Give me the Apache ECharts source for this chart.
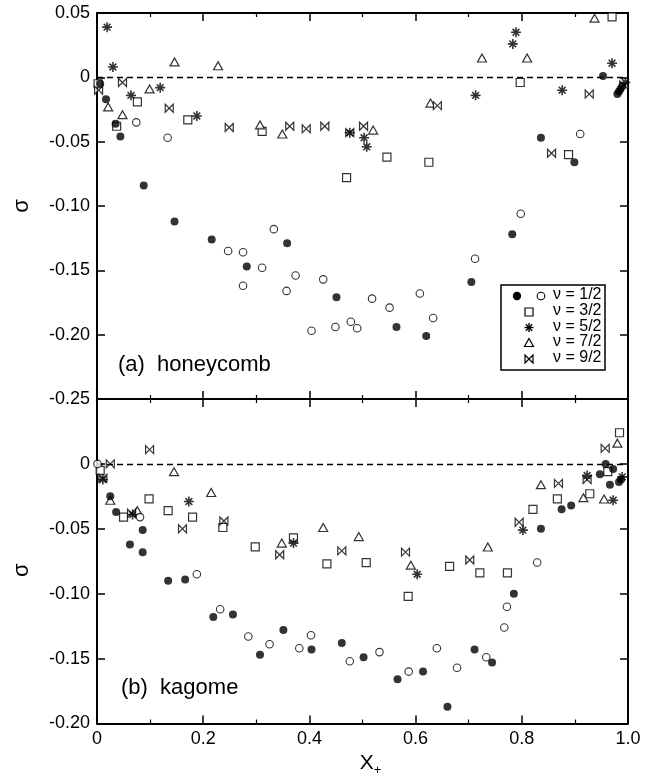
<!DOCTYPE html>
<html>
<head>
<meta charset="utf-8">
<script src="https://cdn.jsdelivr.net/npm/echarts@6/dist/echarts.min.js"></script>
<style>
html,body{margin:0;padding:0;background:#fff;}
#chart{width:659px;height:781px;}
</style>
</head>
<body>
<div id="chart"></div>
<script>
// ---- data (x = X+, y = sigma) ----
const xTicks = [0, 0.2, 0.4, 0.6, 0.8, 1.0];
const legendLabels = ['ν = 1/2', 'ν = 3/2', 'ν = 5/2', 'ν = 7/2', 'ν = 9/2'];

// (a) honeycomb
const honeyFilled12 = [[0.006,-0.005],[0.017,-0.017],[0.035,-0.036],[0.044,-0.046],[0.088,-0.084],[0.146,-0.112],[0.216,-0.126],[0.282,-0.147],[0.358,-0.129],[0.451,-0.171],[0.564,-0.194],[0.620,-0.201],[0.705,-0.159],[0.782,-0.122],[0.836,-0.047],[0.899,-0.066],[0.953,0.001],[0.980,-0.013],[0.983,-0.011],[0.986,-0.009],[0.989,-0.007]];
const honeyOpen12 = [[0.074,-0.035],[0.133,-0.047],[0.247,-0.135],[0.275,-0.136],[0.275,-0.162],[0.311,-0.148],[0.333,-0.118],[0.357,-0.166],[0.374,-0.154],[0.404,-0.197],[0.426,-0.157],[0.449,-0.194],[0.478,-0.190],[0.490,-0.195],[0.518,-0.172],[0.551,-0.179],[0.608,-0.168],[0.633,-0.187],[0.712,-0.141],[0.798,-0.106],[0.910,-0.044]];
const honey32 = [[0.002,-0.005],[0.037,-0.038],[0.076,-0.019],[0.171,-0.033],[0.311,-0.042],[0.470,-0.078],[0.546,-0.062],[0.625,-0.066],[0.797,-0.004],[0.888,-0.060],[0.970,0.047]];
const honey52 = [[0.019,0.039],[0.030,0.008],[0.064,-0.014],[0.119,-0.008],[0.188,-0.030],[0.476,-0.043],[0.503,-0.047],[0.508,-0.054],[0.713,-0.014],[0.783,0.026],[0.789,0.035],[0.876,-0.010],[0.970,0.011],[0.995,-0.004]];
const honey72 = [[0.021,-0.023],[0.048,-0.029],[0.099,-0.009],[0.146,0.012],[0.228,0.009],[0.307,-0.037],[0.349,-0.044],[0.520,-0.041],[0.628,-0.020],[0.725,0.015],[0.810,0.015],[0.937,0.046]];
const honey92 = [[0.003,-0.010],[0.048,-0.004],[0.136,-0.024],[0.249,-0.039],[0.363,-0.038],[0.394,-0.040],[0.429,-0.038],[0.476,-0.043],[0.502,-0.038],[0.641,-0.022],[0.856,-0.059],[0.927,-0.013],[0.992,-0.006]];

// (b) kagome
const kagFilled12 = [[0.025,-0.025],[0.036,-0.037],[0.062,-0.062],[0.086,-0.051],[0.086,-0.068],[0.134,-0.090],[0.166,-0.089],[0.219,-0.118],[0.256,-0.116],[0.307,-0.147],[0.351,-0.128],[0.404,-0.143],[0.461,-0.138],[0.502,-0.149],[0.566,-0.166],[0.614,-0.160],[0.660,-0.187],[0.711,-0.143],[0.744,-0.153],[0.785,-0.100],[0.836,-0.050],[0.875,-0.035],[0.893,-0.032],[0.947,-0.008],[0.958,0.000],[0.972,-0.004],[0.966,-0.016],[0.983,-0.014],[0.987,-0.012]];
const kagOpen12 = [[0.001,0.000],[0.081,-0.041],[0.188,-0.085],[0.232,-0.112],[0.285,-0.133],[0.325,-0.139],[0.381,-0.142],[0.403,-0.132],[0.476,-0.152],[0.532,-0.145],[0.587,-0.160],[0.640,-0.142],[0.678,-0.157],[0.733,-0.149],[0.767,-0.126],[0.772,-0.110],[0.829,-0.076]];
const kag32 = [[0.006,-0.005],[0.050,-0.041],[0.098,-0.027],[0.134,-0.036],[0.180,-0.041],[0.237,-0.049],[0.298,-0.064],[0.370,-0.057],[0.433,-0.077],[0.507,-0.076],[0.586,-0.102],[0.664,-0.079],[0.721,-0.084],[0.773,-0.084],[0.821,-0.035],[0.867,-0.027],[0.928,-0.023],[0.962,-0.006],[0.984,0.024]];
const kag52 = [[0.011,-0.012],[0.067,-0.039],[0.173,-0.029],[0.370,-0.061],[0.603,-0.085],[0.802,-0.051],[0.923,-0.009],[0.972,-0.028],[0.989,-0.010]];
const kag72 = [[0.025,-0.028],[0.076,-0.036],[0.145,-0.006],[0.215,-0.022],[0.348,-0.061],[0.426,-0.049],[0.493,-0.056],[0.591,-0.078],[0.736,-0.064],[0.836,-0.016],[0.916,-0.026],[0.955,-0.027],[0.980,0.016]];
const kag92 = [[0.025,0.000],[0.011,-0.011],[0.065,-0.038],[0.099,0.011],[0.161,-0.050],[0.239,-0.044],[0.344,-0.070],[0.461,-0.067],[0.581,-0.068],[0.702,-0.074],[0.795,-0.045],[0.869,-0.015],[0.923,-0.012],[0.957,0.012]];

// ---- styles ----
const FONT = "'Liberation Sans', Arial, sans-serif";
const STAR = 'path://M5,0L5,10M0,5L10,5M1.6,1.6L8.4,8.4M8.4,1.6L1.6,8.4';
const BOWTIE = 'path://M0,0L0,10L10,0L10,10Z';
const styles = {
  filled: {symbol:'circle', symbolSize:8, itemStyle:{color:'#000', borderWidth:0}},
  open:   {symbol:'circle', symbolSize:7.5, itemStyle:{color:'#fff', borderColor:'#000', borderWidth:1.1}},
  square: {symbol:'rect', symbolSize:8, itemStyle:{color:'#fff', borderColor:'#000', borderWidth:1.2}},
  star:   {symbol:STAR, symbolSize:10, itemStyle:{color:'#000', borderColor:'#000', borderWidth:1.6}},
  tri:    {symbol:'triangle', symbolSize:[9,8], itemStyle:{color:'#fff', borderColor:'#000', borderWidth:1.2}},
  bow:    {symbol:BOWTIE, symbolSize:[8,8], itemStyle:{color:'#fff', borderColor:'#000', borderWidth:1.2}}
};

function sc(name, data, axisIdx, st, z) {
  return Object.assign({
    name: name, type:'scatter', data: data,
    xAxisIndex: axisIdx, yAxisIndex: axisIdx,
    z: z, silent: true, animation:false
  }, JSON.parse(JSON.stringify(st)));
}

const zeroLine = {
  silent:true, symbol:['none','none'], label:{show:false},
  lineStyle:{color:'#000', type:[6,4], width:1.3},
  data:[{yAxis:0}], animation:false
};

const series = [
  sc('ν = 3/2', honey32, 0, styles.square, 2),
  sc('ν = 7/2', honey72, 0, styles.tri, 3),
  sc('ν = 9/2', honey92, 0, styles.bow, 4),
  sc('ν = 5/2', honey52, 0, styles.star, 5),
  sc('ν = 1/2 (open)', honeyOpen12, 0, styles.open, 6),
  sc('ν = 1/2', honeyFilled12, 0, styles.filled, 7),
  sc('ν = 3/2 b', kag32, 2, styles.square, 2),
  sc('ν = 7/2 b', kag72, 2, styles.tri, 3),
  sc('ν = 9/2 b', kag92, 2, styles.bow, 4),
  sc('ν = 5/2 b', kag52, 2, styles.star, 5),
  sc('ν = 1/2 open b', kagOpen12, 2, styles.open, 6),
  sc('ν = 1/2 b', kagFilled12, 2, styles.filled, 7)
];
series[0].markLine = zeroLine;
series[6].markLine = JSON.parse(JSON.stringify(zeroLine));

const LINE = {show:true, onZero:false, lineStyle:{color:'#000', width:2}};
function xAx(grid, pos, labels, extra) {
  return Object.assign({
    type:'value', gridIndex:grid, position:pos, min:0, max:1, interval:0.2,
    axisLine: LINE,
    axisTick:{show:true, inside:true, length:8, lineStyle:{color:'#000', width:1.5}},
    minorTick:{show:true, splitNumber:2, length:4, lineStyle:{color:'#000', width:1.2}},
    splitLine:{show:false}, minorSplitLine:{show:false},
    axisLabel:{show:labels, color:'#000', fontSize:18, fontFamily:FONT, margin:7,
      formatter: v => Math.abs(v) < 1e-9 ? '0' : v.toFixed(1)}
  }, extra || {});
}
function yAx(grid, pos, min, labels, extra) {
  return Object.assign({
    type:'value', gridIndex:grid, position:pos, min:min, max:0.05, interval:0.05,
    axisLine: LINE,
    axisTick:{show:true, inside:true, length:8, lineStyle:{color:'#000', width:1.5}},
    splitLine:{show:false},
    axisLabel:{show:labels, color:'#000', fontSize:18, fontFamily:FONT, margin:7,
      formatter: v => {
        if (Math.abs(v) < 1e-9) return '0';
        if (grid === 1 && v > 0.04) return '';
        return v.toFixed(2);
      }}
  }, extra || {});
}

function buildGraphics() {
  const g = [];
  g.push({type:'text', left:118, top:354, style:{text:'(a)  honeycomb', font:'22px ' + FONT, fill:'#000'}, z:20});
  g.push({type:'text', left:121, top:677, style:{text:'(b)  kagome', font:'22px ' + FONT, fill:'#000'}, z:20});
  // legend box
  const bx = 501, by = 285, bw = 104, bh = 85;
  g.push({type:'rect', shape:{x:bx, y:by, width:bw, height:bh}, style:{fill:'#fff', stroke:'#000', lineWidth:1.5}, z:20});
  const rows = [296, 312, 327.5, 343, 359];
  const ix = 529;
  g.push({type:'circle', shape:{cx:517, cy:rows[0], r:4.2}, style:{fill:'#000'}, z:21});
  g.push({type:'circle', shape:{cx:541, cy:rows[0], r:3.8}, style:{fill:'#fff', stroke:'#000', lineWidth:1.1}, z:21});
  g.push({type:'rect', shape:{x:ix-4, y:rows[1]-4, width:8, height:8}, style:{fill:'#fff', stroke:'#000', lineWidth:1.2}, z:21});
  const sy = rows[2];
  [[0,-4.5,0,4.5],[-4.5,0,4.5,0],[-3.2,-3.2,3.2,3.2],[3.2,-3.2,-3.2,3.2]].forEach(s => {
    g.push({type:'line', shape:{x1:ix+s[0], y1:sy+s[1], x2:ix+s[2], y2:sy+s[3]}, style:{stroke:'#000', lineWidth:1.4}, z:21});
  });
  g.push({type:'polygon', shape:{points:[[ix, rows[3]-4.5],[ix+4.5, rows[3]+3.5],[ix-4.5, rows[3]+3.5]]}, style:{fill:'#fff', stroke:'#000', lineWidth:1.2}, z:21});
  g.push({type:'polygon', shape:{points:[[ix-4, rows[4]-4],[ix-4, rows[4]+4],[ix+4, rows[4]-4],[ix+4, rows[4]+4]]}, style:{fill:'#fff', stroke:'#000', lineWidth:1.2}, z:21});
  legendLabels.forEach((t, i) => {
    g.push({type:'text', left:553, top:rows[i]-9, style:{text:t, font:'16px ' + FONT, fill:'#000'}, z:21});
  });
  return g;
}

const option = {
  backgroundColor:'#fff',
  animation:false,
  grid:[
    {left:97, top:13, width:531, height:386},
    {left:97, top:399, width:531, height:324.5}
  ],
  xAxis:[
    xAx(0, 'bottom', false),
    xAx(0, 'top', false),
    xAx(1, 'bottom', true, {
      name:'{x|X}{s|+}', nameLocation:'middle', nameGap:26,
      nameTextStyle:{padding:[0,0,0,16], rich:{
        x:{fontSize:21, fontFamily:FONT, color:'#000'},
        s:{fontSize:13, fontFamily:FONT, color:'#000', padding:[14,0,0,0]}
      }}
    }),
    xAx(1, 'top', false)
  ],
  yAxis:[
    yAx(0, 'left', -0.25, true, {
      name:'σ', nameLocation:'middle', nameGap:64, nameRotate:90,
      nameTextStyle:{fontSize:22, fontFamily:FONT, color:'#000'}
    }),
    yAx(0, 'right', -0.25, false),
    yAx(1, 'left', -0.2, true, {
      name:'σ', nameLocation:'middle', nameGap:64, nameRotate:90,
      nameTextStyle:{fontSize:22, fontFamily:FONT, color:'#000', padding:[0,18,0,0]}
    }),
    yAx(1, 'right', -0.2, false)
  ],
  series: series,
  graphic: buildGraphics()
};

const chart = echarts.init(document.getElementById('chart'), null, {renderer:'canvas'});
chart.setOption(option);
</script>
</body>
</html>
